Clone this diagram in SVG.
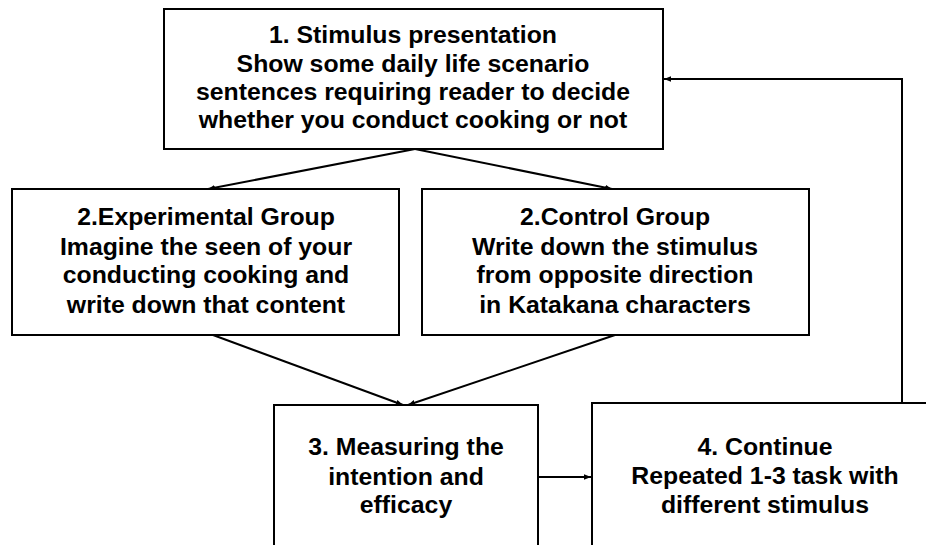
<svg xmlns="http://www.w3.org/2000/svg" width="926" height="545" viewBox="0 0 926 545">
<defs>
<marker id="ah" viewBox="0 0 10 10" refX="10" refY="5" markerWidth="7" markerHeight="7" orient="auto" markerUnits="userSpaceOnUse"><path d="M0,1 L10,5 L0,9 z" fill="#000"/></marker>
<style>
.box{fill:#fff;stroke:#000;stroke-width:2}
.t{font-family:"Liberation Sans",Arial,sans-serif;font-weight:bold;font-size:24.8px;text-anchor:middle;fill:#000}
.c{fill:none;stroke:#000;stroke-width:2}
</style>
</defs>
<rect width="926" height="545" fill="#fff"/>
<g id="connectors">
<path class="c" d="M415,149 L208,189" marker-end="url(#ah)"/>
<path class="c" d="M415,149 L612,189" marker-end="url(#ah)"/>
<path class="c" d="M213,335 L403,405" marker-end="url(#ah)"/>
<path class="c" d="M615,335 L408,405" marker-end="url(#ah)"/>
<path class="c" d="M538,477 L591,477" marker-end="url(#ah)"/>
<path class="c" d="M902,403 L902,79 L664,79" marker-end="url(#ah)"/>
</g>
<g id="n1">
<rect class="box" x="164" y="9" width="499" height="140"/>
<text class="t" x="413" y="43">1. Stimulus presentation</text>
<text class="t" x="413" y="72">Show some daily life scenario</text>
<text class="t" x="413" y="100">sentences requiring reader to decide</text>
<text class="t" x="413" y="128">whether you conduct cooking or not</text>
</g>
<g id="n2a">
<rect class="box" x="12" y="189" width="387" height="146"/>
<text class="t" x="206" y="225">2.Experimental Group</text>
<text class="t" x="206" y="255">Imagine the seen of your</text>
<text class="t" x="206" y="283">conducting cooking and</text>
<text class="t" x="206" y="313">write down that content</text>
</g>
<g id="n2b">
<rect class="box" x="422" y="189" width="387" height="146"/>
<text class="t" x="615" y="225">2.Control Group</text>
<text class="t" x="615" y="255">Write down the stimulus</text>
<text class="t" x="615" y="283">from opposite direction</text>
<text class="t" x="615" y="313">in Katakana characters</text>
</g>
<g id="n3">
<rect class="box" x="274" y="405" width="264" height="160"/>
<text class="t" x="406" y="455">3. Measuring the</text>
<text class="t" x="406" y="485">intention and</text>
<text class="t" x="406" y="513">efficacy</text>
</g>
<g id="n4">
<rect class="box" x="592" y="403" width="350" height="160"/>
<text class="t" x="765" y="455">4. Continue</text>
<text class="t" x="765" y="484">Repeated 1-3 task with</text>
<text class="t" x="765" y="513">different stimulus</text>
</g>
</svg>
